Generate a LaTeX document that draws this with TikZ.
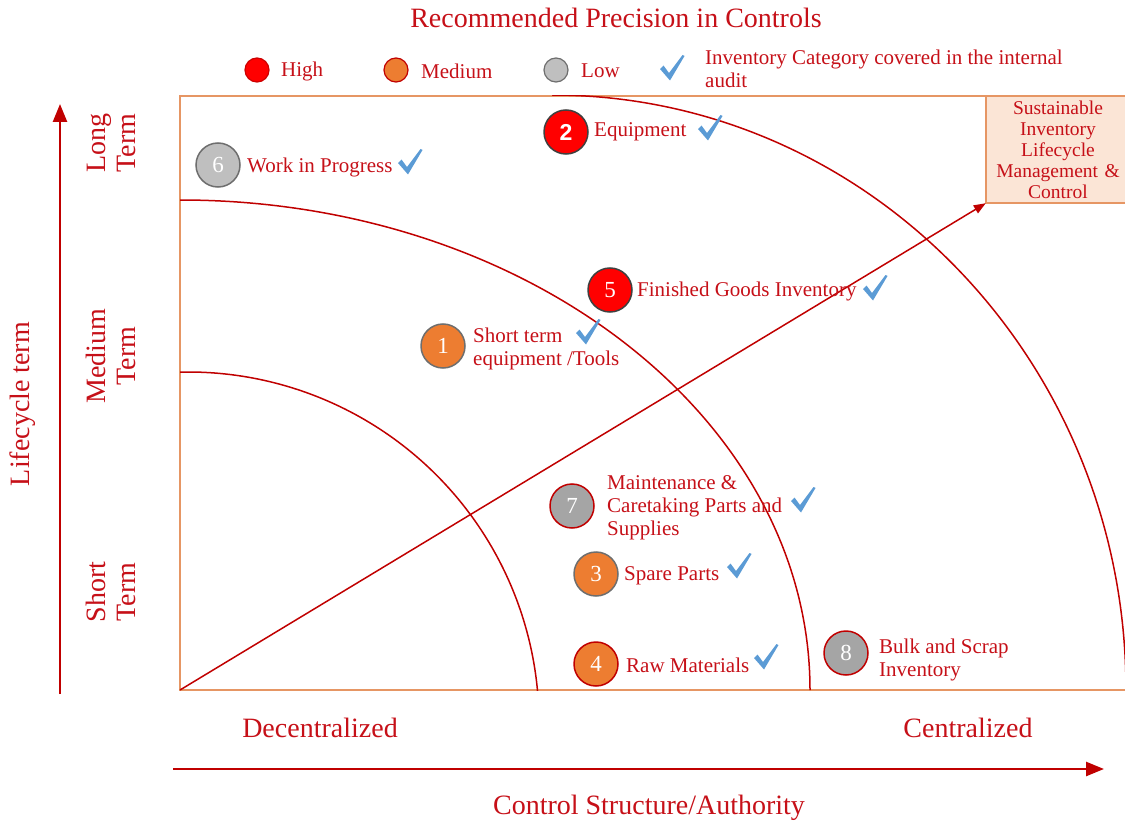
\documentclass[tikz,border=0pt]{standalone}
\usepackage{fontspec}
\setmainfont{Liberation Serif}
\newfontfamily\numsans{Liberation Sans}
\usetikzlibrary{arrows.meta}

\definecolor{txtred}{RGB}{198,16,24}
\definecolor{linered}{RGB}{192,0,0}
\definecolor{frameor}{RGB}{230,150,100}
\definecolor{boxfill}{RGB}{251,229,214}
\definecolor{hired}{RGB}{255,0,0}
\definecolor{medor}{RGB}{237,125,49}
\definecolor{lowlight}{RGB}{191,191,191}
\definecolor{lowdark}{RGB}{165,165,165}
\definecolor{rimgray}{RGB}{110,110,110}
\definecolor{rimdark}{RGB}{64,64,64}
\definecolor{tickblue}{RGB}{91,155,213}

\newcommand\lblfont{\fontsize{21}{23}\selectfont}
\newcommand\axfont{\fontsize{28}{30}\selectfont}
\newcommand\boxfont{\fontsize{19.5}{21}\selectfont}
\newcommand\numfont{\fontsize{23}{23}\selectfont}

\begin{document}
\begin{tikzpicture}[x=1pt,y=-1pt,
  lbl/.style={anchor=west,inner sep=0pt,text=txtred,font=\lblfont,align=left},
  axlbl/.style={inner sep=0pt,text=txtred,font=\axfont,align=center},
  sidelbl/.style={axlbl,rotate=90},
  badge/.style={circle,minimum size=44pt,inner sep=0pt,line width=1.5pt,text=white,font=\numfont},
  dot/.style={circle,minimum size=24pt,inner sep=0pt,line width=1.2pt},
  frameline/.style={draw=frameor,line width=1.5pt},
  arcline/.style={draw=linered,line width=1.5pt},
  axisarrow/.style={draw=linered,line width=2.5pt,-{Triangle[length=18pt,width=14pt]}},
  diagarrow/.style={draw=linered,line width=1.5pt,-{Triangle[length=12pt,width=9pt]}},
  chk/.pic={\fill[tickblue] (-12,1) -- (-8.5,-2.5) -- (-3,5) -- (10.5,-13) -- (12.5,-12) -- (-2,12.5) -- cycle;}
]
\useasboundingbox (0,0) rectangle (1125,824);

% title and legend
\node[axlbl] (title) at (616,18) {Recommended Precision in Controls};
\node[dot,fill=hired,draw=hired!80!black] (lgHigh) at (257,70) {};
\node[lbl] (lgHighT) at (281,71) {High};
\node[dot,fill=medor,draw=linered] (lgMed) at (396,70) {};
\node[lbl] (lgMedT) at (421,71) {Medium};
\node[dot,fill=lowlight,draw=rimgray] (lgLow) at (556,70) {};
\node[lbl] (lgLowT) at (581,71) {Low};
\pic at (672,68) {chk};
\node[lbl] (lgChkT) at (705,69) {Inventory Category covered in the internal\\audit};

% quadrant frame
\coordinate (O) at (180,690);
\draw[frameline] (1140,96) -- (180,96) -- (O) -- (1140,690);

% lifecycle bands
\begin{scope}
  \clip (180,96) rectangle (1126,690);
  \draw[arcline] (188,723) ++(-100:351) arc[start angle=-100,end angle=0,radius=351];
  \draw[arcline] (180,200) arc[start angle=-90,end angle=0,x radius=630,y radius=490];
  \draw[arcline] (552,95) arc[start angle=-90,end angle=0,x radius=574,y radius=595];
\end{scope}

% target box (runs past the right edge) and diagonal
\draw[frameline,fill=boxfill] (986,96) rectangle (1140,203);
\node[minimum width=144pt,minimum height=107pt,text width=140pt,align=center,
      inner sep=0pt,text=txtred,font=\boxfont] (goal) at (1058,149.5)
  {Sustainable\\Inventory\\Lifecycle\\Management \&\\Control};
\draw[diagarrow] (O) -- (goal.south west);

% axes
\coordinate (vbot) at (60,694);
\coordinate (vtop) at (60,104);
\coordinate (hleft) at (173,769);
\coordinate (hright) at (1104,769);
\draw[axisarrow] (vbot) -- (vtop);
\draw[axisarrow] (hleft) -- (hright);
\node[sidelbl] (lifeT) at (23,404) {Lifecycle term};
\node[sidelbl] (longT) at (111,143) {Long\\Term};
\node[sidelbl] (medT) at (111,356) {Medium\\Term};
\node[sidelbl] (shortT) at (111,592) {Short\\Term};
\node[axlbl] (decT) at (320,728) {Decentralized};
\node[axlbl] (cenT) at (968,728) {Centralized};
\node[axlbl] (ctrlT) at (649,808) {Control Structure/Authority};

% inventory categories
\node[badge,fill=lowlight,draw=rimgray] (c6) at (218,165) {6};
\node[lbl] (l6) at (247,167) {Work in Progress};
\pic at (410,162) {chk};

\node[badge,fill=hired,draw=rimdark,font=\numsans\bfseries\numfont] (c2) at (566,132) {2};
\node[lbl] (l2) at (594,132) {Equipment};
\pic at (710,128) {chk};

\node[badge,fill=hired,draw=rimdark] (c5) at (610,290) {5};
\node[lbl] (l5) at (637,291) {Finished Goods Inventory};
\pic at (875,288) {chk};

\node[badge,fill=medor,draw=rimgray] (c1) at (443,346) {1};
\node[lbl] (l1) at (473,349) {Short term\\equipment /Tools};
\pic at (588,332) {chk};

\node[badge,fill=lowdark,draw=linered] (c7) at (572,506) {7};
\node[lbl] (l7) at (607,508) {Maintenance \&\\Caretaking Parts and\\Supplies};
\pic at (803,500) {chk};

\node[badge,fill=medor,draw=rimgray] (c3) at (596,574) {3};
\node[lbl] (l3) at (624,576) {Spare Parts};
\pic at (739,566) {chk};

\node[badge,fill=medor,draw=linered] (c4) at (596,664) {4};
\node[lbl] (l4) at (626,665) {Raw Materials};
\pic at (766,657) {chk};

\node[badge,fill=lowdark,draw=linered] (c8) at (846,653) {8};
\node[lbl] (l8) at (879,660) {Bulk and Scrap\\Inventory};
\end{tikzpicture}
\end{document}
